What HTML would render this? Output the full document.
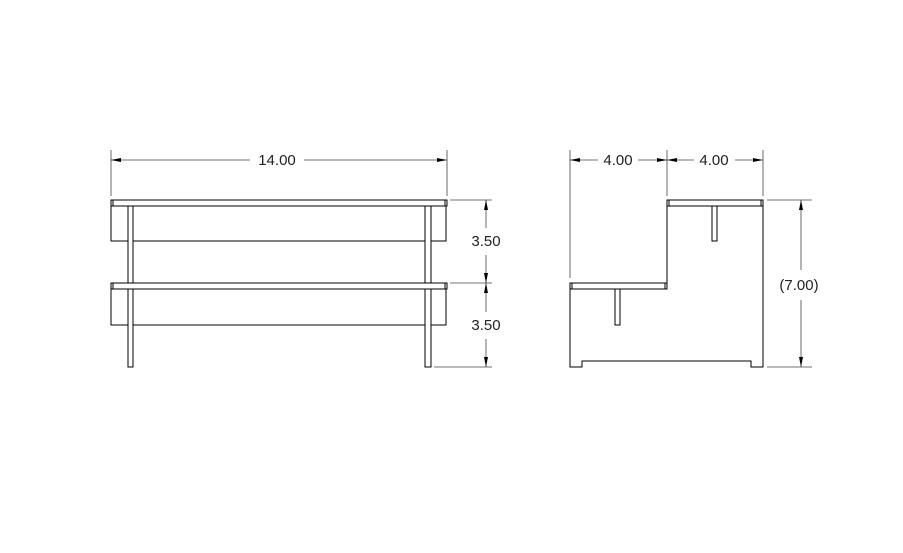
<!DOCTYPE html>
<html><head><meta charset="utf-8"><style>
html,body{margin:0;padding:0;background:#fff;}
svg{display:block}
text{font-family:"Liberation Sans",sans-serif;font-size:15px;fill:#222}
</style></head><body>
<svg width="903" height="553" viewBox="0 0 903 553" xmlns="http://www.w3.org/2000/svg">
<defs>
<marker id="a" viewBox="0 0 10 6" refX="10" refY="3" markerWidth="10" markerHeight="6" orient="auto-start-reverse" markerUnits="userSpaceOnUse"><path d="M0,1 L10,3 L0,5 Z" fill="#000"/></marker>
</defs>
<g fill="none" stroke="#000" stroke-width="1">
<rect x="111" y="206" width="335" height="35"/>
<rect x="111" y="289" width="335" height="36"/>
<rect x="111" y="200" width="336" height="6" fill="#fff"/>
<rect x="111" y="283" width="336" height="6" fill="#fff"/>
<line x1="113" y1="200" x2="113" y2="206"/><line x1="445" y1="200" x2="445" y2="206"/>
<line x1="113" y1="283" x2="113" y2="289"/><line x1="445" y1="283" x2="445" y2="289"/>
<rect x="128" y="206" width="5" height="77" fill="#fff"/>
<rect x="128" y="289" width="5" height="78" fill="#fff"/>
<rect x="425" y="206" width="6" height="77" fill="#fff"/>
<rect x="425" y="289" width="6" height="78" fill="#fff"/>
</g>
<g stroke="#444" stroke-width="0.8" fill="none">
<line x1="111" y1="150" x2="111" y2="196"/>
<line x1="447" y1="150" x2="447" y2="196"/>
<line x1="111" y1="160" x2="250" y2="160" marker-start="url(#a)"/>
<line x1="304" y1="160" x2="447" y2="160" marker-end="url(#a)"/>
<line x1="450" y1="200" x2="492" y2="200"/>
<line x1="450" y1="283" x2="492" y2="283"/>
<line x1="434" y1="367" x2="492" y2="367"/>
<line x1="486" y1="200" x2="486" y2="228" marker-start="url(#a)"/>
<line x1="486" y1="255" x2="486" y2="283" marker-end="url(#a)"/>
<line x1="486" y1="283" x2="486" y2="312" marker-start="url(#a)"/>
<line x1="486" y1="339" x2="486" y2="367" marker-end="url(#a)"/>
</g>
<text x="277" y="165" text-anchor="middle">14.00</text>
<text x="486" y="246" text-anchor="middle">3.50</text>
<text x="486" y="330" text-anchor="middle">3.50</text>
<g fill="none" stroke="#000" stroke-width="1">
<path d="M570,289 L570,367 L582,367 L582,361 L751,361 L751,367 L763,367 L763,206"/>
<line x1="667" y1="206" x2="667" y2="283"/>
<rect x="667" y="200" width="96" height="6" fill="#fff"/>
<rect x="570" y="283" width="97" height="6" fill="#fff"/>
<line x1="669" y1="200" x2="669" y2="206"/><line x1="761" y1="200" x2="761" y2="206"/>
<line x1="572" y1="283" x2="572" y2="289"/><line x1="665" y1="283" x2="665" y2="289"/>
<rect x="712" y="206" width="5" height="35" fill="#fff"/>
<rect x="615" y="289" width="5" height="36" fill="#fff"/>
</g>
<g stroke="#444" stroke-width="0.8" fill="none">
<line x1="570" y1="150" x2="570" y2="278"/>
<line x1="667" y1="150" x2="667" y2="196"/>
<line x1="763" y1="150" x2="763" y2="196"/>
<line x1="570" y1="160" x2="598" y2="160" marker-start="url(#a)"/>
<line x1="638" y1="160" x2="667" y2="160" marker-end="url(#a)"/>
<line x1="667" y1="160" x2="694" y2="160" marker-start="url(#a)"/>
<line x1="735" y1="160" x2="763" y2="160" marker-end="url(#a)"/>
<line x1="767" y1="200" x2="812" y2="200"/>
<line x1="767" y1="367" x2="812" y2="367"/>
<line x1="801" y1="200" x2="801" y2="270" marker-start="url(#a)"/>
<line x1="801" y1="300" x2="801" y2="367" marker-end="url(#a)"/>
</g>
<text x="618" y="165" text-anchor="middle">4.00</text>
<text x="714" y="165" text-anchor="middle">4.00</text>
<text x="799" y="290" text-anchor="middle">(7.00)</text>
</svg>
</body></html>
